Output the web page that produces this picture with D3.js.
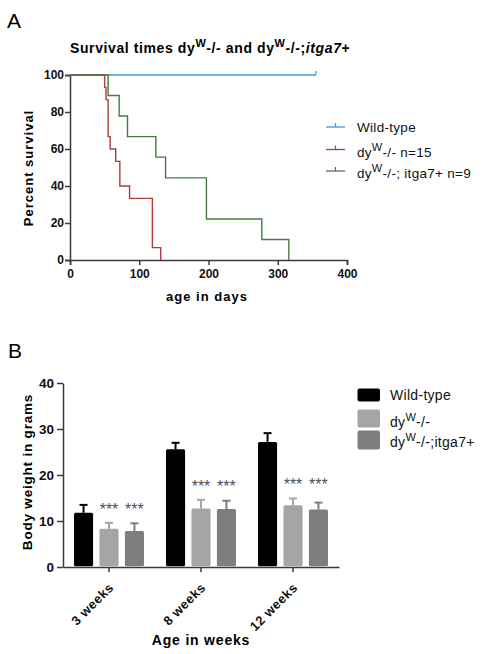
<!DOCTYPE html>
<html><head><meta charset="utf-8">
<script src="https://cdn.jsdelivr.net/npm/d3@7"></script>
<style>body{margin:0;background:#fff}svg{display:block}text{font-family:"Liberation Sans",Arial,sans-serif}</style>
</head><body>
<svg id="c" width="486" height="654"></svg>
<script>
// ---- Panel A data (Kaplan-Meier) ----
const wtTimes = [0, 355];
const wtSurv = [100, 100];
const dyTimes = [0, 50, 52, 55, 58, 66, 72, 86, 119, 131];
const dySurv = [100, 93.3, 86.7, 66.7, 60, 53.3, 40, 33.3, 6.7, 0];
const itTimes = [0, 55, 71, 83, 124, 138, 197, 277, 316];
const itSurv = [100, 88.9, 77.8, 66.7, 55.6, 44.4, 22.2, 11.1, 0];
const survTicksX = [0, 100, 200, 300, 400];
const survTicksY = [0, 20, 40, 60, 80, 100];
// ---- Panel B data (body weight) ----
const weekCats = ["3 weeks", "8 weeks", "12 weeks"];
const barSeries = ["Wild-type", "dyW-/-", "dyW-/-;itga7+"];
const wtMean = [11.8, 25.6, 27.2];
const wtErr = [1.7, 1.4, 1.9];
const dyMean = [8.3, 12.7, 13.4];
const dyErr = [1.3, 1.9, 1.5];
const itMean = [7.8, 12.6, 12.5];
const itErr = [1.7, 1.8, 1.5];
const weightTicks = [0, 10, 20, 30, 40];
const sigLabel = "***";

const svg = d3.select("#c");
const axisCol = "#3a3a3a";
const FS = "'Liberation Sans',Arial,sans-serif";

function richText(t, parts, supSize, shift) {
  let raised = false;
  parts.forEach(p => {
    const ts = t.append("tspan").text(p[0]);
    if (p[1] === "sup") { ts.attr("dy", -shift).attr("font-size", supSize); raised = true; }
    else {
      if (raised) { ts.attr("dy", shift); raised = false; }
      if (p[1] === "it") ts.attr("font-style", "italic");
    }
  });
}

// ================= Panel A =================
svg.append("text").attr("x", 7).attr("y", 28).attr("font-size", 21).text("A");

const title = svg.append("text").attr("x", 70).attr("y", 53).attr("font-size", 14).attr("font-weight", "bold").attr("letter-spacing", 0.6);
richText(title, [["Survival times dy"], ["W", "sup"], ["-/- and dy"], ["W", "sup"], ["-/-;"], ["itga7", "it"], ["+"]], 11, 6);

const xA = d3.scaleLinear().domain([0, 400]).range([70, 347]);
const yA = d3.scaleLinear().domain([0, 100]).range([260, 75]);

const gxA = svg.append("g").attr("transform", "translate(0,260)")
  .call(d3.axisBottom(xA).tickValues(survTicksX).tickSize(5).tickPadding(4));
const gyA = svg.append("g").attr("transform", "translate(70,0)")
  .call(d3.axisLeft(yA).tickValues(survTicksY).tickSize(5).tickPadding(1));
[gxA, gyA].forEach(g => {
  g.select(".domain").attr("stroke", axisCol).attr("stroke-width", 1.5);
  g.selectAll(".tick line").attr("stroke", axisCol).attr("stroke-width", 1.5);
  g.selectAll(".tick text").attr("font-family", FS).attr("font-size", 12).attr("font-weight", "bold").attr("fill", "#111");
});

const stepLine = d3.line().x(d => xA(d[0])).y(d => yA(d[1])).curve(d3.curveStepAfter);
function survPts(t, s) { return t.map((v, i) => [v, s[i]]); }
const survSeries = [
  {pts: survPts(wtTimes, wtSurv), col: "#3d9ad6", censor: true},
  {pts: survPts(dyTimes, dySurv), col: "#b23b3b", censor: false},
  {pts: survPts(itTimes, itSurv), col: "#437c42", censor: false}
];
survSeries.forEach(s => {
  svg.append("path").attr("d", stepLine(s.pts)).attr("fill", "none").attr("stroke", s.col).attr("stroke-width", 1.4);
  if (s.censor) {
    const last = s.pts[s.pts.length - 1];
    svg.append("line").attr("x1", xA(last[0])).attr("x2", xA(last[0]))
      .attr("y1", yA(last[1])).attr("y2", yA(last[1]) - 4).attr("stroke", s.col).attr("stroke-width", 1.2);
  }
});

svg.append("text").attr("transform", "translate(33,168) rotate(-90)").attr("text-anchor", "middle")
  .attr("font-size", 13).attr("font-weight", "bold").attr("letter-spacing", 1).text("Percent survival");
svg.append("text").attr("x", 207).attr("y", 301).attr("text-anchor", "middle")
  .attr("font-size", 13).attr("font-weight", "bold").attr("letter-spacing", 1).text("age in days");

// legend A
const legA = [
  {col: "#3d9ad6", parts: [["Wild-type"]]},
  {col: "#b23b3b", parts: [["dy"], ["W", "sup"], ["-/-  n=15"]]},
  {col: "#437c42", parts: [["dy"], ["W", "sup"], ["-/-; itga7+  n=9"]]}
];
const legAy = [127, 149.5, 171];
legA.forEach((d, i) => {
  const y = legAy[i];
  svg.append("line").attr("x1", 326).attr("x2", 345).attr("y1", y).attr("y2", y).attr("stroke", d.col).attr("stroke-width", 1.3);
  svg.append("line").attr("x1", 335.5).attr("x2", 335.5).attr("y1", y).attr("y2", y - 4).attr("stroke", d.col).attr("stroke-width", 1.2);
  const t = svg.append("text").attr("x", 357).attr("y", y + (i === 0 ? 4.5 : 7)).attr("font-size", 13.5).attr("fill", "#111").attr("letter-spacing", 0.3);
  richText(t, d.parts, 11, 6);
});

// ================= Panel B =================
svg.append("text").attr("x", 8).attr("y", 358).attr("font-size", 21).text("B");

const x0 = d3.scaleBand().domain(weekCats).range([63, 339]);
const x1 = d3.scaleBand().domain(barSeries).range([-35, 35]).paddingInner(0.25);
const yB = d3.scaleLinear().domain([0, 40]).range([567, 383]);

const gxB = svg.append("g").attr("transform", "translate(0,567)")
  .call(d3.axisBottom(x0).tickSize(5).tickSizeOuter(0));
gxB.selectAll(".tick text").remove();
const gyB = svg.append("g").attr("transform", "translate(63,0)")
  .call(d3.axisLeft(yB).tickValues(weightTicks).tickSize(6).tickSizeOuter(0).tickPadding(3));
[gxB, gyB].forEach(g => {
  g.select(".domain").attr("stroke", axisCol).attr("stroke-width", 1.5);
  g.selectAll(".tick line").attr("stroke", axisCol).attr("stroke-width", 1.5);
});
gyB.selectAll(".tick text").attr("font-family", FS).attr("font-size", 13.5).attr("font-weight", "bold").attr("fill", "#111");

// rotated category labels
weekCats.forEach(c => {
  svg.append("text").attr("transform", `translate(${x0(c) + x0.bandwidth() / 2 - 1},${582}) rotate(-45)`)
    .attr("text-anchor", "end").attr("dy", "0.7em").attr("font-size", 13).attr("font-weight", "bold").attr("fill", "#111")
    .attr("letter-spacing", 0.5).text(c);
});

const barCols = ["#000000", "#a5a5a8", "#7e7e80"];
const means = [wtMean, dyMean, itMean];
const errs = [wtErr, dyErr, itErr];
weekCats.forEach((c, ci) => {
  const cx = x0(c) + x0.bandwidth() / 2;
  barSeries.forEach((s, si) => {
    const bx = cx + x1(s);
    const bw = x1.bandwidth();
    const m = means[si][ci], e = errs[si][ci];
    const mid = bx + bw / 2;
    svg.append("line").attr("x1", mid).attr("x2", mid).attr("y1", yB(m)).attr("y2", yB(m + e))
      .attr("stroke", barCols[si]).attr("stroke-width", 2);
    svg.append("line").attr("x1", mid - 4).attr("x2", mid + 4).attr("y1", yB(m + e)).attr("y2", yB(m + e))
      .attr("stroke", barCols[si]).attr("stroke-width", 2);
    svg.append("rect").attr("x", bx).attr("y", yB(m)).attr("width", bw).attr("height", yB(0) - yB(m) - 0.75)
      .attr("rx", 1.5).attr("fill", barCols[si]);
  });
  const topErr = Math.max(dyMean[ci] + dyErr[ci], itMean[ci] + itErr[ci]);
  [1, 2].forEach(si => {
    const mid = cx + x1(barSeries[si]) + x1.bandwidth() / 2;
    svg.append("text").attr("x", mid).attr("y", yB(topErr) - 8).attr("text-anchor", "middle")
      .attr("font-size", 16).attr("fill", "#4a4f60").text(sigLabel);
  });
});

svg.append("text").attr("transform", "translate(32,472) rotate(-90)").attr("text-anchor", "middle")
  .attr("font-size", 13.5).attr("font-weight", "bold").attr("letter-spacing", 0.8).text("Body weight in grams");
svg.append("text").attr("x", 201).attr("y", 645).attr("text-anchor", "middle")
  .attr("font-size", 14).attr("font-weight", "bold").attr("letter-spacing", 0.8).text("Age in weeks");

// legend B
const legB = [
  {y: 388.5, h: 13, parts: [["Wild-type"]], ty: 400},
  {y: 409.5, h: 18, parts: [["dy"], ["W", "sup"], ["-/-"]], ty: 421},
  {y: 430.5, h: 19, parts: [["dy"], ["W", "sup"], ["-/-;itga7+"]], ty: 441}
];
legB.forEach((d, i) => {
  svg.append("rect").attr("x", 357.5).attr("y", d.y).attr("width", 22.5).attr("height", d.h).attr("rx", 2).attr("fill", barCols[i]);
  const t = svg.append("text").attr("x", 390).attr("y", d.ty + (i === 0 ? 0 : 6)).attr("font-size", 14).attr("fill", "#111").attr("letter-spacing", 0.3);
  richText(t, d.parts, 11, 6);
});
</script>
</body></html>
